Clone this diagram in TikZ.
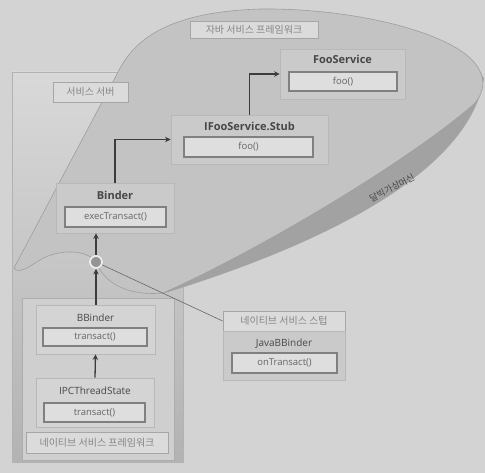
\documentclass[tikz,border=0pt]{standalone}
\usepackage{fontspec}
\setmainfont{Open Sans}
\newfontfamily\kr{Noto Sans CJK KR}
\usepackage{tikz}
\usetikzlibrary{arrows.meta}

\definecolor{bggray}{HTML}{D3D3D3}
\definecolor{facegray}{HTML}{C3C3C3}
\definecolor{bandgray}{HTML}{A2A2A2}
\definecolor{boxgray}{HTML}{CACACA}
\definecolor{methgray}{HTML}{DEDEDE}
\definecolor{inkgray}{HTML}{3C3C3C}

\begin{document}
\begin{tikzpicture}[x=1pt, y=-1pt,
    clsbox/.style={draw=black!28, fill=boxgray, line width=0.8pt, inner sep=0pt},
    titletext/.style={text=black!72, font=\fontsize{10}{12}\selectfont},
    methbox/.style={draw=black!50, fill=methgray, line width=1.1pt, inner sep=0pt,
        text=black!60, font=\fontsize{9.5}{11}\selectfont},
    tagbox/.style={draw=black!35, fill=black!14, line width=0.8pt, inner sep=0pt,
        text=black!48, font=\kr\fontsize{10}{12}\selectfont},
    flow/.style={draw=inkgray, line width=1.3pt, -{Stealth[length=5.5pt, width=5.5pt]}}]
    \useasboundingbox (0,0) rectangle (485,473);
    \fill[bggray] (0,0) rectangle (485,473);

    % service server frame
    \shade[top color=black!15, bottom color=black!30, draw=black!30, line width=0.8pt]
        (12,72) rectangle (183,462);
    \filldraw[fill=black!19, draw=black!32, line width=0.8pt] (22,298) rectangle (174,460);

    % dalvik vm blob
    \fill[bandgray] (460,50) -- (484,78) .. controls (470,170) and (330,242) .. (165,293)
        -- (300,180) -- cycle;
    \filldraw[fill=facegray, draw=black!38, line width=0.6pt]
        (14,268) -- (118,72) .. controls (135,38) and (170,12) .. (260,9)
        .. controls (350,8) and (440,30) .. (470,58)
        .. controls (488,75) and (485,92) .. (474,104)
        .. controls (410,160) and (260,250) .. (163,293)
        .. controls (130,296) and (105,285) .. (96,262)
        .. controls (88,250) and (60,248) .. (40,260)
        .. controls (28,268) and (18,274) .. (14,268) -- cycle;
    \node[rotate=28, text=black!72, font=\kr\fontsize{9}{10}\selectfont] (dvm) at (392,188) {달빅가상머신};

    % labels
    \node[tagbox, minimum width=128pt, minimum height=17pt] (javafw) at (254,30) {자바 서비스 프레임워크};
    \node[tagbox, minimum width=75pt, minimum height=20pt] (server) at (90.5,92) {서비스 서버};
    \node[tagbox, minimum width=142pt, minimum height=21pt] (nativefw) at (97,442.5) {네이티브 서비스 프레임워크};
    \node[tagbox, minimum width=122pt, minimum height=20pt] (nstub) at (284,321) {네이티브 서비스 스텁};

    % java side
    \node[clsbox, minimum width=125pt, minimum height=50pt] (foo) at (342.5,74) {};
    \node[titletext, font=\bfseries\fontsize{11}{13}\selectfont] (footitle) at (342.5,59) {FooService};
    \node[methbox, minimum width=108pt, minimum height=19pt] (foometh) at (343,81.5) {foo()};

    \node[clsbox, minimum width=157pt, minimum height=49pt] (stub) at (249.5,139.5) {};
    \node[titletext, font=\bfseries\fontsize{11}{13}\selectfont] (stubtitle) at (249.5,126) {IFooService.Stub};
    \node[methbox, minimum width=129pt, minimum height=20pt] (stubmeth) at (248.5,147) {foo()};

    \node[clsbox, minimum width=118pt, minimum height=50pt] (binder) at (115,208) {};
    \node[titletext, font=\bfseries\fontsize{11}{13}\selectfont] (bindertitle) at (115,195) {Binder};
    \node[methbox, minimum width=101pt, minimum height=20pt] (bindermeth) at (115.5,217) {execTransact()};

    % native side
    \node[clsbox, fill=black!17, minimum width=119pt, minimum height=49pt] (bbinder) at (95.5,329.5) {};
    \node[titletext] (bbindertitle) at (95.5,318) {BBinder};
    \node[methbox, minimum width=104pt, minimum height=18pt] (bbindermeth) at (95,337) {transact()};

    \node[clsbox, fill=black!17, minimum width=118pt, minimum height=49pt] (ipc) at (95,402.5) {};
    \node[titletext] (ipctitle) at (95,391) {IPCThreadState};
    \node[methbox, minimum width=101pt, minimum height=19pt] (ipcmeth) at (94.5,412.5) {transact()};

    \node[clsbox, minimum width=122pt, minimum height=49pt] (jbb) at (284,355.5) {};
    \node[titletext] (jbbtitle) at (284,344) {JavaBBinder};
    \node[methbox, minimum width=105pt, minimum height=20pt] (jbbmeth) at (284.5,363) {onTransact()};

    % jni joint
    \node[circle, fill=black!42, draw=black!8, line width=1.8pt, minimum size=12pt, inner sep=0pt] (joint) at (96,262) {};

    \draw[black!60, line width=0.6pt] (joint) -- (nstub.west);
    \draw[flow] (ipc.north) -- (bbinder.south);
    \draw[flow] (bbinder.north -| joint) -- (joint);
    \draw[flow] (joint) -- (joint |- binder.south);
    \draw[flow] (binder.north) |- (stub.west);
    \draw[flow] (stub.north) |- (foo.west);
\end{tikzpicture}
\end{document}
